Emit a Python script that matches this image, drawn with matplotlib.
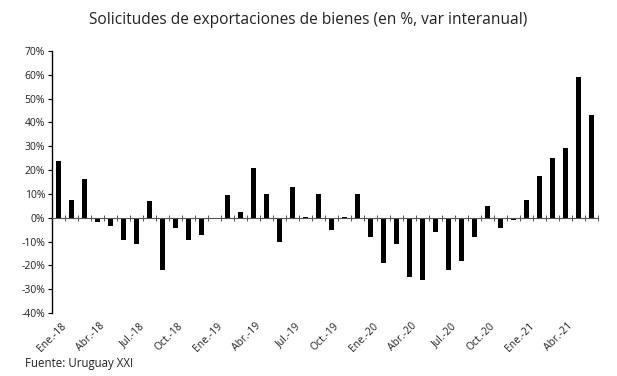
import matplotlib
matplotlib.use("Agg")
import matplotlib.pyplot as plt
import matplotlib.transforms as mtransforms
import numpy as np

plt.rcParams['font.family'] = ['Open Sans', 'DejaVu Sans']

months = ["Ene.", "Feb.", "Mar.", "Abr.", "May.", "Jun.", "Jul.", "Ago.", "Set.", "Oct.", "Nov.", "Dic."]
years = ["18", "19", "20", "21"]
categories = [f"{m}-{y}" for y in years for m in months][:42]

values = [24.0, 7.6, 16.1, -1.9, -3.3, -9.5, -11.0, 6.9, -22.0, -4.2, -9.5, -7.1,
          0.0, 9.7, 2.2, 21.0, 9.8, -10.3, 12.7, 0.3, 10.0, -5.3, 0.5, 10.0,
          -8.1, -19.0, -11.0, -25.0, -26.0, -6.2, -22.0, -18.2, -8.1, 4.9, -4.2, -1.1,
          7.6, 17.4, 25.2, 29.4, 59.0, 43.0]

yticks = [-40, -30, -20, -10, 0, 10, 20, 30, 40, 50, 60, 70]

W, H = 617, 376
fig = plt.figure(figsize=(W / 100, H / 100), dpi=100)
ax = fig.add_axes([52 / W, (H - 313) / H, (598 - 52) / W, (313 - 51) / H])

x = np.arange(len(values))
ax.bar(x, values, width=0.38, color="black")

ax.set_xlim(-0.5, len(values) - 0.5)
ax.set_ylim(-40, 70)
ax.set_yticks(yticks)
ax.set_yticklabels([f"{v}%" for v in yticks], fontsize=7.5, color="#222222")
ax.tick_params(axis="y", length=3, width=0.8, pad=2)

for s in ["top", "right"]:
    ax.spines[s].set_visible(False)
ax.spines["left"].set_linewidth(1.0)
ax.spines["bottom"].set_position(("data", 0))
ax.spines["bottom"].set_color("#555555")
ax.spines["bottom"].set_linewidth(0.8)

# ticks at category boundaries
ax.set_xticks(np.arange(len(values) + 1) - 0.5)
ax.set_xticklabels([])
ax.tick_params(axis="x", direction="inout", length=5, width=0.7, color="#555555")

trans = mtransforms.blended_transform_factory(ax.transData, ax.transAxes)
for i, lab in enumerate(categories):
    if i % 3 == 0:
        ax.text(i + 0.15, -0.03, lab, transform=trans, rotation=45, ha="right", va="top",
                rotation_mode="anchor", fontsize=7.5, color="#222222")

fig.text(308 / W, 1 - 20 / H, "Solicitudes de exportaciones de bienes (en %, var interanual)",
         ha="center", va="center", fontsize=11.2, color="#222222")
fig.text(25 / W, 1 - 364 / H, "Fuente: Uruguay XXI", ha="left", va="center",
         fontsize=8.3, color="#222222")

fig.savefig("out.png", dpi=100, facecolor="white")
